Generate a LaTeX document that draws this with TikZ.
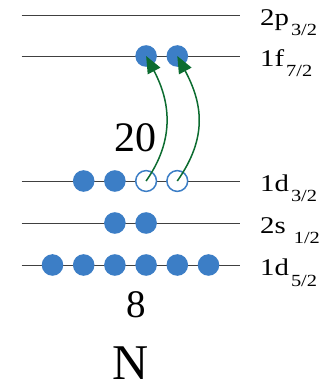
\documentclass[tikz,border=0pt]{standalone}
\usepackage{fontspec}
\setmainfont{Liberation Serif}
\newfontfamily\lblfont{Liberation Serif}[FakeStretch=1.2]
\usetikzlibrary{arrows.meta}
\definecolor{shellblue}{RGB}{60,126,198}
\definecolor{jumpgreen}{RGB}{12,108,48}
\newcommand{\lsub}[1]{\kern2pt\raisebox{-10pt}{\fontsize{17}{17}\selectfont #1}}
\tikzset{
  level/.style={draw=black!75,line width=0.9pt},
  full/.style={circle,fill=shellblue,inner sep=0pt,minimum size=21.6pt},
  hole/.style={circle,draw=shellblue,fill=white,line width=1.5pt,inner sep=0pt,minimum size=20.8pt},
  jump/.style={-{Triangle[length=17pt,width=14pt]},draw=jumpgreen,line width=1.5pt,out=55,in=-62,looseness=1.05},
  lbl/.style={anchor=base west,inner sep=0pt,font=\lblfont\fontsize{24}{24}\selectfont},
  magic/.style={inner sep=0pt,font=\fontsize{42}{42}\selectfont}
}
\begin{document}
\begin{tikzpicture}[x=1pt,y=1pt]
  \useasboundingbox (0,0) rectangle (333,389);
  % levels
  \foreach \nm/\y in {p3/374,f7/333,d3/208,s1/166,d5/124}{
    \coordinate (\nm-l) at (21.7,\y);
    \coordinate (\nm-r) at (240,\y);
    \draw[level] (\nm-l) -- (\nm-r);
  }
  \node[lbl] (p3lab) at ([shift={(20,-11)}]p3-r) {2p\lsub{3/2}};
  \node[lbl] (f7lab) at ([shift={(20,-11)}]f7-r) {1f\lsub{7/2}};
  \node[lbl] (d3lab) at ([shift={(20,-11)}]d3-r) {1d\lsub{3/2}};
  \node[lbl] (s1lab) at ([shift={(20,-11)}]s1-r) {2s\kern6pt\lsub{1/2}};
  \node[lbl] (d5lab) at ([shift={(20,-11)}]d5-r) {1d\lsub{5/2}};
  % nucleons
  \foreach \i in {1,...,6}
    \node[full] (d5n\i) at ({52.5+31.2*(\i-1)},124) {};
  \node[full] (s1n1) at (114.9,166) {};
  \node[full] (s1n2) at (146.1,166) {};
  \node[full] (d3n1) at (83.7,208) {};
  \node[full] (d3n2) at (114.9,208) {};
  \node[hole] (h1) at (146.1,208) {};
  \node[hole] (h2) at (177.3,208) {};
  \node[full] (f1) at (146.1,333) {};
  \node[full] (f2) at (177.3,333) {};
  % excitations
  \draw[jump] (h1.center) to (f1.center);
  \draw[jump,looseness=1.1] (h2.center) to (f2.center);
  % magic numbers
  \node[magic] (m20) at (135,251.5) {20};
  \node[magic,font=\fontsize{39}{39}\selectfont] (m8) at (135.8,84) {8};
  \node[magic,font=\fontsize{50}{50}\selectfont] (nlab) at (130.8,26) {N};
\end{tikzpicture}
\end{document}
